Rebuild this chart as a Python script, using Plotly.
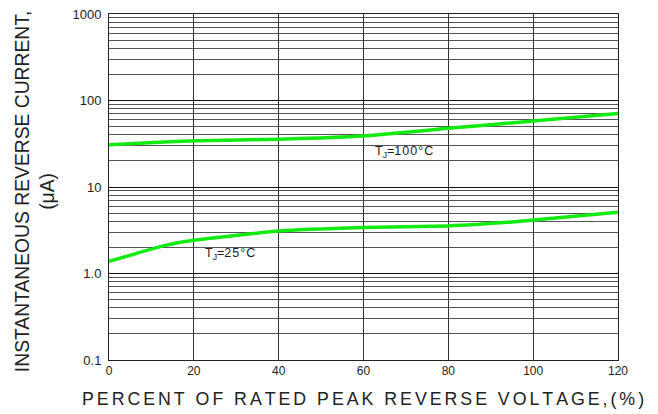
import plotly.graph_objects as go

pct_100 = [0, 13, 21, 40, 60, 80, 100, 120]
cur_100 = [30.8, 33.2, 34.3, 35.7, 38.9, 47.7, 58, 71]
pct_25 = [0, 13, 20, 40, 60, 80, 95, 120]
cur_25 = [1.38, 2.1, 2.42, 3.1, 3.4, 3.55, 3.95, 5.1]

x_ticks = [0, 20, 40, 60, 80, 100, 120]
y_ticks = [0.1, 1, 10, 100, 1000]
y_ticktext = ["0.1", "1.0", "10", "100", "1000"]

x_title = "PERCENT OF RATED PEAK REVERSE VOLTAGE,(%)"
y_title = "INSTANTANEOUS REVERSE CURRENT,<br>(μA)"


def spaced(s, gap="\u200a"):
    return gap.join(list(s))


FONT = "Liberation Sans, Arial"
green = "#12EA12"
fig = go.Figure()
fig.add_trace(go.Scatter(x=pct_100, y=cur_100, mode="lines",
                         line=dict(color=green, width=3.5, shape="spline", smoothing=0.4)))
fig.add_trace(go.Scatter(x=pct_25, y=cur_25, mode="lines",
                         line=dict(color=green, width=3.5, shape="spline", smoothing=0.4)))

fig.add_annotation(x=62.2, y=1.405, text="T<sub>J</sub>=" + spaced("100°C"),
                   showarrow=False, xanchor="left", yanchor="middle",
                   font=dict(size=12.5, color="#222", family=FONT))
fig.add_annotation(x=22.2, y=0.223, text="T<sub>J</sub>=" + spaced("25°C"),
                   showarrow=False, xanchor="left", yanchor="middle",
                   font=dict(size=12.5, color="#222", family=FONT))

# axis titles
fig.add_annotation(xref="paper", yref="paper", x=0.4990, y=0, yshift=-39,
                   text=spaced(x_title, "\u2006"), showarrow=False,
                   xanchor="center", yanchor="middle",
                   font=dict(size=17.8, color="#222", family=FONT))
fig.add_annotation(xref="paper", yref="paper", x=-0.1454, y=0.488,
                   text=y_title, textangle=-90, showarrow=False,
                   xanchor="center", yanchor="middle",
                   font=dict(size=19.3, color="#222", family=FONT))

fig.update_layout(
    width=658, height=414,
    margin=dict(l=101, r=48, t=6, b=62),
    paper_bgcolor="white", plot_bgcolor="white",
    showlegend=False,
    font=dict(family=FONT, color="#222"),
    xaxis=dict(range=[0, 120], tickvals=x_ticks, showgrid=True, gridcolor="#333",
               gridwidth=1, showline=True, linecolor="#222", mirror=True, linewidth=1,
               ticks="", zeroline=False, tickfont=dict(size=12), automargin=False,
               ticklabeloverflow="allow"),
    yaxis=dict(type="log", range=[-1, 3], tickvals=y_ticks, ticktext=y_ticktext,
               showgrid=True, gridcolor="#111", gridwidth=1,
               minor=dict(dtick="D1", showgrid=True, gridcolor="#555", gridwidth=1, ticks=""),
               showline=True, linecolor="#222", mirror=True, linewidth=1,
               ticks="", tickfont=dict(size=13), ticklabelstandoff=4, automargin=False,
               ticklabeloverflow="allow"),
)

fig.write_html("out.html")
